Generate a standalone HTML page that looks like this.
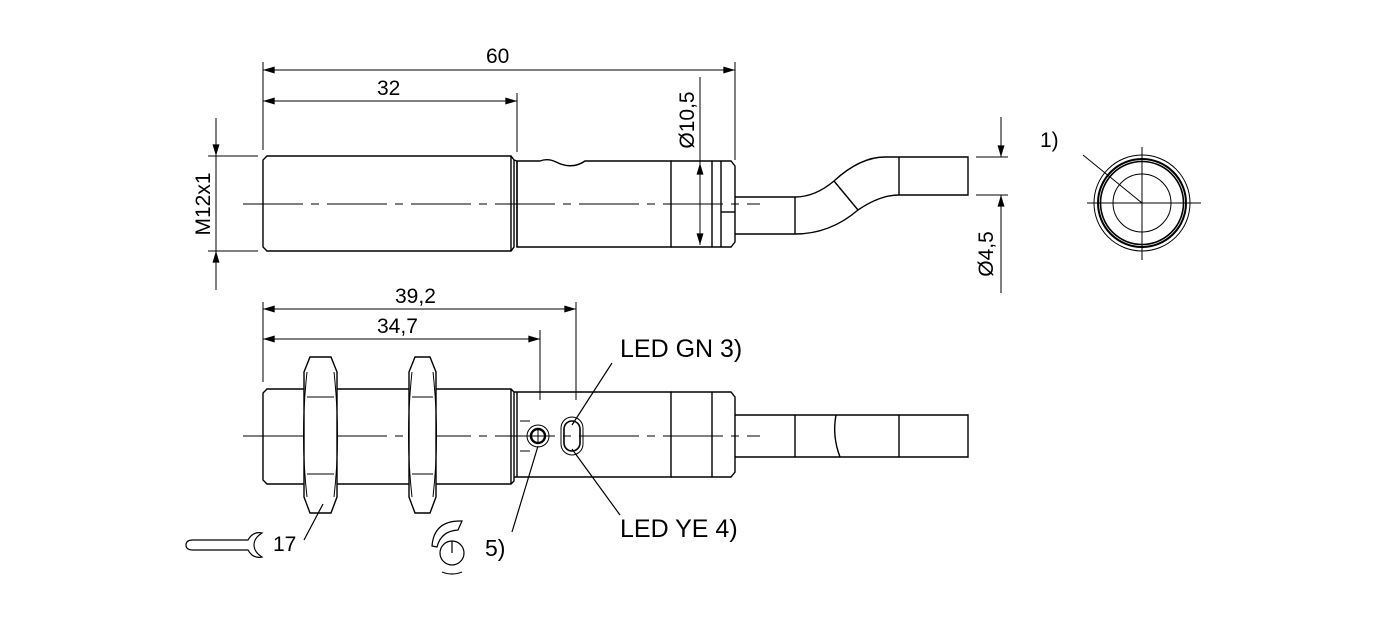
<!DOCTYPE html>
<html><head><meta charset="utf-8"><style>html,body{margin:0;padding:0;background:#fff}svg{display:block}</style></head>
<body>
<svg width="1380" height="631" viewBox="0 0 1380 631" xmlns="http://www.w3.org/2000/svg" font-family="Liberation Sans, sans-serif" fill="none" stroke="#000" stroke-width="1.4">
<defs>
<marker id="a" viewBox="0 0 10 6" refX="10" refY="3" markerWidth="18" markerHeight="7" markerUnits="userSpaceOnUse" orient="auto-start-reverse"><path d="M0,0 L10,3 L0,6z" fill="#000" stroke="none"/></marker>
</defs>
<g stroke-width="1">
<line x1="263" y1="62" x2="263" y2="150"/>
<line x1="517" y1="93" x2="517" y2="152"/>
<line x1="735" y1="62" x2="735" y2="160"/>
<line x1="263" y1="70" x2="735" y2="70" marker-start="url(#a)" marker-end="url(#a)"/>
<line x1="263" y1="101" x2="517" y2="101" marker-start="url(#a)" marker-end="url(#a)"/>
<line x1="208" y1="156" x2="258" y2="156"/>
<line x1="208" y1="251" x2="258" y2="251"/>
<line x1="216" y1="118" x2="216" y2="156" marker-end="url(#a)"/>
<line x1="216" y1="290" x2="216" y2="251" marker-end="url(#a)"/>
<line x1="216" y1="156" x2="216" y2="251"/>
<line x1="700" y1="77" x2="700" y2="245"/>
<line x1="700" y1="204" x2="700" y2="163" marker-end="url(#a)"/>
<line x1="700" y1="204" x2="700" y2="245" marker-end="url(#a)"/>
<line x1="976" y1="157" x2="1008" y2="157"/>
<line x1="976" y1="195" x2="1008" y2="195"/>
<line x1="1001" y1="117" x2="1001" y2="157" marker-end="url(#a)"/>
<line x1="1001" y1="293" x2="1001" y2="195" marker-end="url(#a)"/>
<line x1="243" y1="204" x2="760" y2="204" stroke-dasharray="60,8,8,8"/>
<line x1="243" y1="436" x2="760" y2="436" stroke-dasharray="60,8,8,8"/>
<line x1="263" y1="302" x2="263" y2="382"/>
<line x1="576" y1="302" x2="576" y2="400"/>
<line x1="540" y1="330" x2="540" y2="400"/>
<line x1="263" y1="309" x2="576" y2="309" marker-start="url(#a)" marker-end="url(#a)"/>
<line x1="263" y1="339" x2="540" y2="339" marker-start="url(#a)" marker-end="url(#a)"/>
</g>
<path d="M267,156 H511 L514,160 V247 L511,251 H267 L263,247 V160 Z"/>
<line x1="511" y1="156" x2="511" y2="251"/>
<path d="M514,160 L517,161 H540 Q548,158 556,162 Q572,170 585,161 H671 V247 H517 V161"/>
<line x1="517" y1="161" x2="517" y2="247"/>
<path d="M671,161 H731 L735,166 V242 L731,247 H671"/>
<line x1="712" y1="161" x2="712" y2="247"/>
<line x1="721" y1="161" x2="721" y2="247"/>
<path d="M721,212 H735"/>
<path d="M735,197 H795 Q815,197 834,181 Q860,157 885,157 H968 V195 H899 Q880,195 858,210 Q830,234 795,234 H735"/>
<line x1="795" y1="197" x2="795" y2="234"/>
<line x1="834" y1="181" x2="858" y2="210"/>
<line x1="899" y1="157" x2="899" y2="195"/>
<g stroke-width="1">
<circle cx="1142" cy="203" r="48"/>
<circle cx="1142" cy="203" r="29"/>
<line x1="1087" y1="203" x2="1201" y2="203"/>
<line x1="1142" y1="147" x2="1142" y2="260"/>
<line x1="1083" y1="155" x2="1142" y2="203"/>
</g>
<circle cx="1142" cy="203" r="44" stroke-width="2"/>
<circle cx="1142" cy="203" r="41.5" stroke-width="1.6"/>
<path d="M267,389 H511 L514,392 V481 L511,484 H267 L263,480 V393 Z"/>
<line x1="511" y1="389" x2="511" y2="484"/>
<path d="M514,392 H671 V477 H514"/>
<line x1="517" y1="392" x2="517" y2="477"/>
<path d="M671,392 H731 L735,397 V472 L731,477 H671"/>
<line x1="712" y1="392" x2="712" y2="477"/>
<path d="M735,415 H968 V457 H735"/>
<line x1="795" y1="415" x2="795" y2="457"/>
<path d="M836,415 Q832,436 840,457"/>
<line x1="899" y1="415" x2="899" y2="457"/>
<g fill="#fff">
<path d="M310,357 H331 L337,372 V497 L331,513 H310 L304,497 V372 Z"/>
<path d="M415,357 H430 L436,372 V497 L430,513 H415 L409,497 V372 Z"/>
</g>
<g stroke-width="1">
<line x1="307" y1="397" x2="334" y2="397"/><line x1="307" y1="474" x2="334" y2="474"/>
<path d="M307,372 Q300,436 307,497"/><path d="M334,372 Q341,436 334,497"/>
<line x1="412" y1="397" x2="433" y2="397"/><line x1="412" y1="474" x2="433" y2="474"/>
<path d="M412,372 Q405,436 412,497"/><path d="M433,372 Q440,436 433,497"/>
</g>
<path d="M520,421 H530 M520,451 H530" stroke-width="1"/>
<circle cx="538" cy="436" r="11" stroke-width="1"/>
<circle cx="538" cy="436" r="7" stroke-width="2.4"/>
<line x1="538" y1="428" x2="538" y2="444" stroke-width="1"/>
<rect x="561" y="417" width="22" height="38" rx="11" stroke-width="1"/>
<rect x="564" y="421" width="16" height="30" rx="8" stroke-width="1.6"/>
<g stroke-width="1.2">
<line x1="572" y1="425" x2="612" y2="363"/>
<line x1="572" y1="449" x2="620" y2="515"/>
<line x1="538" y1="446" x2="512" y2="532"/>
<line x1="323" y1="504" x2="304" y2="540"/>
<path d="M248,540 H193 Q186,540 186,545 Q186,550 193,550 H248 Q253,559 262,557 Q254,552 254,545 Q254,538 262,533 Q253,531 248,540 Z"/>
<circle cx="452" cy="553" r="12"/>
<line x1="452" y1="541" x2="452" y2="553"/>
<path d="M432,546 Q434,520 462,521 L458,530 Q441,531 437,547 Z"/>
<path d="M442,572 Q452,576 462,572"/>
</g>
<g fill="#000" stroke="none" font-size="21">
<text x="486" y="63">60</text>
<text x="377" y="95">32</text>
<text x="395" y="303">39,2</text>
<text x="377" y="333">34,7</text>
<text transform="translate(210,204) rotate(-90)" text-anchor="middle">M12x1</text>
<text transform="translate(694,120) rotate(-90)" text-anchor="middle">Ø10,5</text>
<text transform="translate(993,254) rotate(-90)" text-anchor="middle">Ø4,5</text>
<text x="1040" y="147">1)</text>
<text x="620" y="357" font-size="25">LED GN 3)</text>
<text x="620" y="537" font-size="25">LED YE 4)</text>
<text x="485" y="556" font-size="23">5)</text>
<text x="273" y="551">17</text>
</g>
</svg>
</body></html>
